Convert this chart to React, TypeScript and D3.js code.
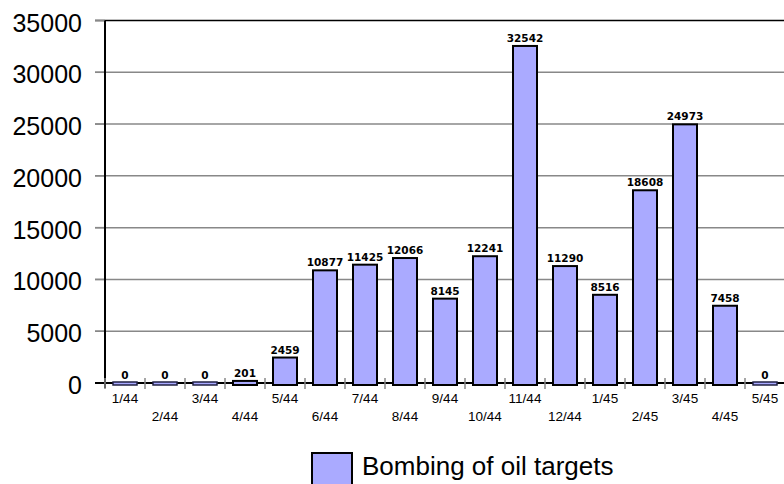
import React from "react";
import * as d3 from "d3";

const categories = ["1/44","2/44","3/44","4/44","5/44","6/44","7/44","8/44","9/44","10/44","11/44","12/44","1/45","2/45","3/45","4/45","5/45"];
const values = [0,0,0,201,2459,10877,11425,12066,8145,12241,32542,11290,8516,18608,24973,7458,0];
const yTicks = [0,5000,10000,15000,20000,25000,30000,35000];
const seriesName = "Bombing of oil targets";

const W = 784, H = 484;
const left = 105, right = 785, top = 20.5, bottom = 383;

export default function App() {
  const x = d3.scaleBand<string>().domain(categories).range([left, right]).paddingInner(0.4).paddingOuter(0.2);
  const y = d3.scaleLinear().domain([0, 35000]).range([bottom, top]);
  const step = x.step();
  const boundaries = d3.range(categories.length + 1).map(i => left + i * step);
  return (
    <svg width={W} height={H} style={{ position: "absolute", left: 0, top: 0, background: "#fff" }}>
      {yTicks.map(t => (
        <g key={t}>
          <line x1={95} x2={right} y1={y(t)} y2={y(t)} stroke={t === 35000 ? "#000" : "#888"} strokeWidth={1.5} />
          <line x1={95} x2={left} y1={y(t)} y2={y(t)} stroke="#888" strokeWidth={1.5} />
          <text x={82} y={y(t) + 11} textAnchor="end" fontFamily="Liberation Sans, Arial, sans-serif" fontSize={25} fill="#000">{t}</text>
        </g>
      ))}
      <line x1={left} x2={left} y1={top} y2={388} stroke="#000" strokeWidth={2} />
      <line x1={95} x2={right} y1={bottom} y2={bottom} stroke="#000" strokeWidth={2} />
      {boundaries.map((b, i) => (
        <line key={i} x1={b} x2={b} y1={378} y2={389} stroke="#888" strokeWidth={1.5} />
      ))}
      {categories.map((c, i) => {
        const v = values[i];
        const x0 = x(c)!;
        const yt = Math.min(y(v), bottom - 1);
        return (
          <g key={c}>
            <rect x={x0} y={yt} width={x.bandwidth()} height={bottom + 2 - yt} fill="#aaaaff" stroke={v === 0 ? "#222244" : "#000"} strokeWidth={v === 0 ? 1.5 : 2} />
            <text x={x0 + x.bandwidth() / 2} y={y(v) - 4} textAnchor="middle" fontFamily="DejaVu Sans, Verdana, sans-serif" fontWeight="bold" fontSize={10.5} fill="#000">{v}</text>
            <text x={x0 + x.bandwidth() / 2} y={i % 2 === 0 ? 403 : 421} textAnchor="middle" fontFamily="Liberation Sans, Arial, sans-serif" fontSize={13.5} fill="#000">{c}</text>
          </g>
        );
      })}
      <rect x={312} y={453} width={40} height={40} fill="#aaaaff" stroke="#000" strokeWidth={2} />
      <text x={362} y={475} fontFamily="Liberation Sans, Arial, sans-serif" fontSize={26} fill="#000">{seriesName}</text>
    </svg>
  );
}
